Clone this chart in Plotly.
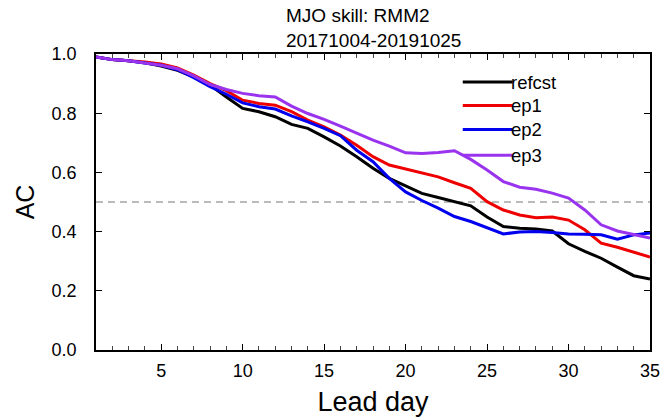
import plotly.graph_objects as go

lead_day = list(range(1, 36))

refcst = [0.990, 0.981, 0.977, 0.970, 0.959, 0.945, 0.923, 0.895, 0.855, 0.816,
          0.805, 0.788, 0.762, 0.749, 0.720, 0.689, 0.653, 0.614, 0.580, 0.554,
          0.529, 0.515, 0.501, 0.487, 0.449, 0.417, 0.411, 0.409, 0.402, 0.359,
          0.333, 0.310, 0.280, 0.251, 0.240]
ep1 = [0.990, 0.981, 0.977, 0.973, 0.966, 0.953, 0.929, 0.900, 0.876, 0.844,
       0.833, 0.827, 0.805, 0.777, 0.754, 0.726, 0.692, 0.653, 0.625, 0.611,
       0.597, 0.585, 0.565, 0.546, 0.501, 0.473, 0.456, 0.447, 0.449, 0.439,
       0.406, 0.361, 0.347, 0.331, 0.314]
ep2 = [0.990, 0.981, 0.977, 0.970, 0.962, 0.947, 0.920, 0.890, 0.864, 0.835,
       0.822, 0.814, 0.791, 0.771, 0.749, 0.724, 0.675, 0.636, 0.580, 0.534,
       0.505, 0.479, 0.451, 0.434, 0.413, 0.392, 0.399, 0.400, 0.397, 0.392,
       0.391, 0.389, 0.374, 0.389, 0.395]
ep3 = [0.990, 0.981, 0.977, 0.970, 0.962, 0.950, 0.926, 0.897, 0.880, 0.867,
       0.859, 0.855, 0.824, 0.799, 0.779, 0.756, 0.732, 0.709, 0.689, 0.666,
       0.664, 0.667, 0.673, 0.644, 0.608, 0.569, 0.550, 0.543, 0.530, 0.513,
       0.473, 0.423, 0.402, 0.389, 0.378]

series_names = ["refcst", "ep1", "ep2", "ep3"]
series_values = [refcst, ep1, ep2, ep3]
series_colors = ["#000000", "#ee0000", "#0000ee", "#9933ee"]

x_ticks = [5, 10, 15, 20, 25, 30, 35]
y_ticks = [0.0, 0.2, 0.4, 0.6, 0.8, 1.0]

FONT = "Liberation Sans, Arial, sans-serif"

fig = go.Figure()

# reference dashed line at AC = 0.5
fig.add_trace(go.Scatter(x=[1, 35], y=[0.5, 0.5], mode="lines",
                         line=dict(color="#777777", width=1, dash="7px,5px"),
                         showlegend=False, hoverinfo="skip"))

for name, vals, col in zip(series_names, series_values, series_colors):
    fig.add_trace(go.Scatter(x=lead_day, y=vals, mode="lines", name=name,
                             line=dict(color=col, width=3), showlegend=False))

# legend drawn manually (long line samples with labels)
leg_y = [0.905, 0.826, 0.745, 0.658]
for name, col, yy in zip(series_names, series_colors, leg_y):
    fig.add_shape(type="line", xref="paper", yref="paper",
                  x0=0.662, x1=0.752, y0=yy, y1=yy,
                  line=dict(color=col, width=3))
    fig.add_annotation(xref="paper", yref="paper", x=0.750, y=yy, text=name,
                       showarrow=False, xanchor="left", yanchor="middle",
                       xshift=-3,
                       font=dict(family=FONT, size=18.5, color="black"))

# title
fig.add_annotation(xref="paper", yref="paper", x=0.5, y=1.0, yshift=1,
                   text="MJO skill: RMM2<br>20171004-20191025", showarrow=False,
                   align="left", xanchor="center", yanchor="bottom",
                   font=dict(family=FONT, size=19, color="black"))

axis_common = dict(showgrid=False, zeroline=False, showline=True,
                   linecolor="black", linewidth=1.5, mirror="allticks",
                   ticks="inside", tickcolor="black", tickwidth=1.2,
                   automargin=False,
                   tickfont=dict(family=FONT, size=18, color="black"))

fig.update_xaxes(range=[1, 35], tickvals=x_ticks, ticklen=6,
                 ticklabelstandoff=4,
                 minor=dict(dtick=1, tick0=1, ticks="inside", ticklen=4,
                            tickcolor="#444444", tickwidth=1, showgrid=False),
                 title=dict(text="Lead day", standoff=12,
                            font=dict(family=FONT, size=27, color="black")),
                 **axis_common)
fig.update_yaxes(range=[0, 1], tickvals=y_ticks, tickformat=".1f", ticklen=6,
                 ticklabelstandoff=14,
                 title=dict(text="AC", standoff=10,
                            font=dict(family=FONT, size=25, color="black")),
                 **axis_common)

fig.update_layout(width=662, height=417,
                  margin=dict(l=96, r=12, t=54, b=67),
                  paper_bgcolor="white", plot_bgcolor="white",
                  font=dict(family=FONT, color="black"))

fig.write_html("out.html")
